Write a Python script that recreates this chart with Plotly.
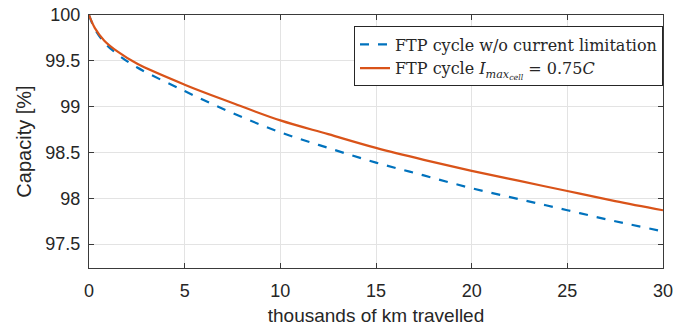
import plotly.graph_objects as go

km = [0, 0.3, 0.8, 1.5, 2.5, 5, 7.5, 10, 12.5, 15, 17.5, 20, 22.5, 25, 27.5, 30]
cap_nolimit = [100, 99.85, 99.70, 99.57, 99.43, 99.17, 98.93, 98.72, 98.55, 98.39, 98.25, 98.11, 97.99, 97.87, 97.75, 97.64]
cap_limit = [100, 99.86, 99.72, 99.60, 99.47, 99.24, 99.04, 98.85, 98.70, 98.55, 98.42, 98.30, 98.19, 98.08, 97.97, 97.87]

name_nolimit = "FTP cycle w/o current limitation"
name_limit = "FTP cycle <i>I</i><sub><i>max<sub>cell</sub></i></sub> = 0.75<i>C</i>"

x_ticks = [0, 5, 10, 15, 20, 25, 30]
y_ticks = [97.5, 98, 98.5, 99, 99.5, 100]
y_ticktext = ["97.5", "98", "98.5", "99", "99.5", "100"]

fig = go.Figure()
fig.add_trace(go.Scatter(x=km, y=cap_nolimit, mode="lines", name=name_nolimit,
                         line=dict(color="#0072BD", width=2.2, dash="dash", shape="spline")))
fig.add_trace(go.Scatter(x=km, y=cap_limit, mode="lines", name=name_limit,
                         line=dict(color="#D95319", width=2.2, shape="spline")))

axis_common = dict(showline=True, linecolor="#3a3a3a", linewidth=1.3, mirror="ticks",
                   ticks="inside", ticklen=5, tickcolor="#3a3a3a", showgrid=True,
                   gridcolor="#e3e3e3", gridwidth=1, zeroline=False, automargin=False,
                   tickfont=dict(family="Liberation Sans, Arial", size=18, color="#262626"))

fig.update_xaxes(range=[0, 30], tickvals=x_ticks, ticklabelstandoff=6,
                 title=dict(text="thousands of km travelled", standoff=8,
                            font=dict(family="Liberation Sans, Arial", size=19, color="#262626")),
                 **axis_common)
fig.update_yaxes(range=[97.24, 100], tickvals=y_ticks, ticktext=y_ticktext, ticklabelstandoff=4,
                 title=dict(text="Capacity [%]", standoff=8,
                            font=dict(family="Liberation Sans, Arial", size=20, color="#262626")),
                 **axis_common)

fig.update_layout(
    width=675, height=335,
    margin=dict(l=89, r=12, t=15, b=67),
    plot_bgcolor="white", paper_bgcolor="white",
    legend=dict(x=1.0, y=0.955, xanchor="right", yanchor="top",
                bgcolor="white", bordercolor="#262626", borderwidth=1,
                font=dict(family="DejaVu Serif, Liberation Serif", size=16, color="#262626"),
                tracegroupgap=0, itemwidth=30),
)

fig.write_html("out.html")
